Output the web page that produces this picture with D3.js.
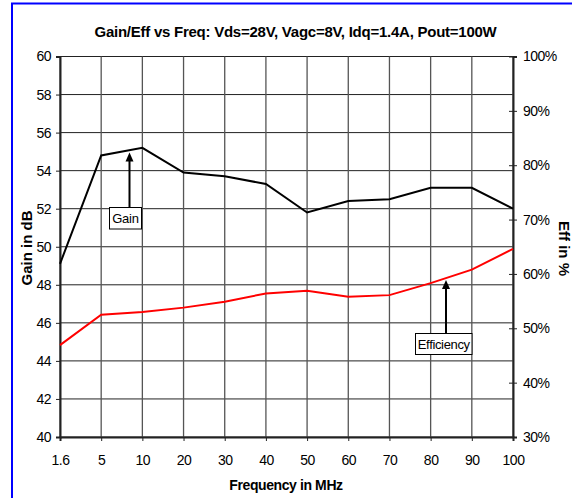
<!DOCTYPE html>
<html><head><meta charset="utf-8">
<script src="https://cdn.jsdelivr.net/npm/d3@7"></script>
<style>
html,body{margin:0;padding:0;background:#fff;}
svg{display:block;font-family:"Liberation Sans",Arial,sans-serif;}
</style></head>
<body><svg id="c" width="572" height="498"></svg>
<script>
const freqs = ["1.6","5","10","20","30","40","50","60","70","80","90","100"];
const gain = [49.1,54.8,55.2,53.9,53.7,53.3,51.8,52.4,52.5,53.1,53.1,52.0];
const eff = [46.9,52.5,53.0,53.8,54.9,56.4,56.9,55.8,56.1,58.3,60.8,64.6];
const gainTicks = [40,42,44,46,48,50,52,54,56,58,60];
const effTicks = [30,40,50,60,70,80,90,100];

const svg = d3.select("#c");
const L=60, R=513, T=56.5, B=437;
const x = d3.scalePoint().domain(freqs).range([L,R]);
const yG = d3.scaleLinear().domain([40,60]).range([B,T]);
const yE = d3.scaleLinear().domain([30,100]).range([B,T]);

// border
svg.append("rect").attr("x",12).attr("y",3.5).attr("width",600).attr("height",600)
  .attr("fill","none").attr("stroke","#0000ff").attr("stroke-width",2);

// grid
const g = svg.append("g");
g.selectAll(".hg").data(gainTicks).join("line")
  .attr("x1",L).attr("x2",R).attr("y1",d=>yG(d)).attr("y2",d=>yG(d))
  .attr("stroke","#222").attr("stroke-width",1);
g.selectAll(".vg").data(freqs).join("line")
  .attr("x1",d=>x(d)).attr("x2",d=>x(d)).attr("y1",T).attr("y2",B)
  .attr("stroke","#555").attr("stroke-width",1.3);

// axes
const axL = svg.append("g").attr("transform",`translate(${L},0)`)
  .call(d3.axisLeft(yG).tickValues(gainTicks).tickSize(4).tickPadding(5));
const axB = svg.append("g").attr("transform",`translate(0,${B})`)
  .call(d3.axisBottom(x).tickSize(4).tickPadding(14));
const axR = svg.append("g").attr("transform",`translate(${R},0)`)
  .call(d3.axisRight(yE).tickValues(effTicks).tickSize(4).tickPadding(6).tickFormat(d=>d+"%"));
axR.selectAll(".tick line").attr("x1",-4);
[axL,axB,axR].forEach(a=>{
  a.select(".domain").attr("stroke","#222").attr("stroke-width",2);
  a.selectAll(".tick line").attr("stroke","#222");
  a.selectAll("text").attr("font-size",14).attr("fill","#000")
   .attr("font-family","Liberation Sans, Arial, sans-serif").attr("letter-spacing","-0.5");
});

// lines
const lineG = d3.line().x((d,i)=>x(freqs[i])).y(d=>yG(d));
const lineE = d3.line().x((d,i)=>x(freqs[i])).y(d=>yE(d));
svg.append("path").attr("d",lineE(eff)).attr("fill","none").attr("stroke","#ff0000").attr("stroke-width",2);
svg.append("path").attr("d",lineG(gain)).attr("fill","none").attr("stroke","#000").attr("stroke-width",2);

// annotations
function callout(label, ax, tipY, boxX, boxY, boxW, boxH, ls){
  svg.append("line").attr("x1",ax).attr("x2",ax).attr("y1",boxY).attr("y2",tipY+8)
    .attr("stroke","#000").attr("stroke-width",2);
  svg.append("path").attr("d",`M${ax},${tipY} L${ax-4},${tipY+9} L${ax+4},${tipY+9} Z`).attr("fill","#000");
  svg.append("rect").attr("x",boxX).attr("y",boxY).attr("width",boxW).attr("height",boxH)
    .attr("fill","#fff").attr("stroke","#000").attr("stroke-width",1);
  svg.append("text").attr("x",boxX+boxW/2).attr("y",boxY+boxH/2+5).attr("text-anchor","middle")
    .attr("font-size",13).attr("letter-spacing",ls).text(label);
}
callout("Gain", 129.5, 152.5, 109.5, 207.5, 32, 21.5, "-0.2");
callout("Efficiency", 446, 280, 415.5, 333.5, 56.5, 21, "-0.35");

// titles
svg.append("text").attr("x",295.5).attr("y",37).attr("text-anchor","middle")
  .attr("font-size",15).attr("font-weight","bold").attr("letter-spacing","-0.25")
  .text("Gain/Eff vs Freq: Vds=28V, Vagc=8V, Idq=1.4A, Pout=100W");
svg.append("text").attr("x",286).attr("y",490).attr("text-anchor","middle")
  .attr("font-size",14).attr("font-weight","bold").attr("letter-spacing","-0.4")
  .text("Frequency in MHz");
svg.append("text").attr("transform","translate(32,248) rotate(-90)").attr("text-anchor","middle")
  .attr("font-size",15).attr("font-weight","bold")
  .text("Gain in dB");
svg.append("text").attr("transform","translate(559,248.5) rotate(90)").attr("text-anchor","middle")
  .attr("font-size",15).attr("font-weight","bold")
  .text("Eff in %");
</script></body></html>
